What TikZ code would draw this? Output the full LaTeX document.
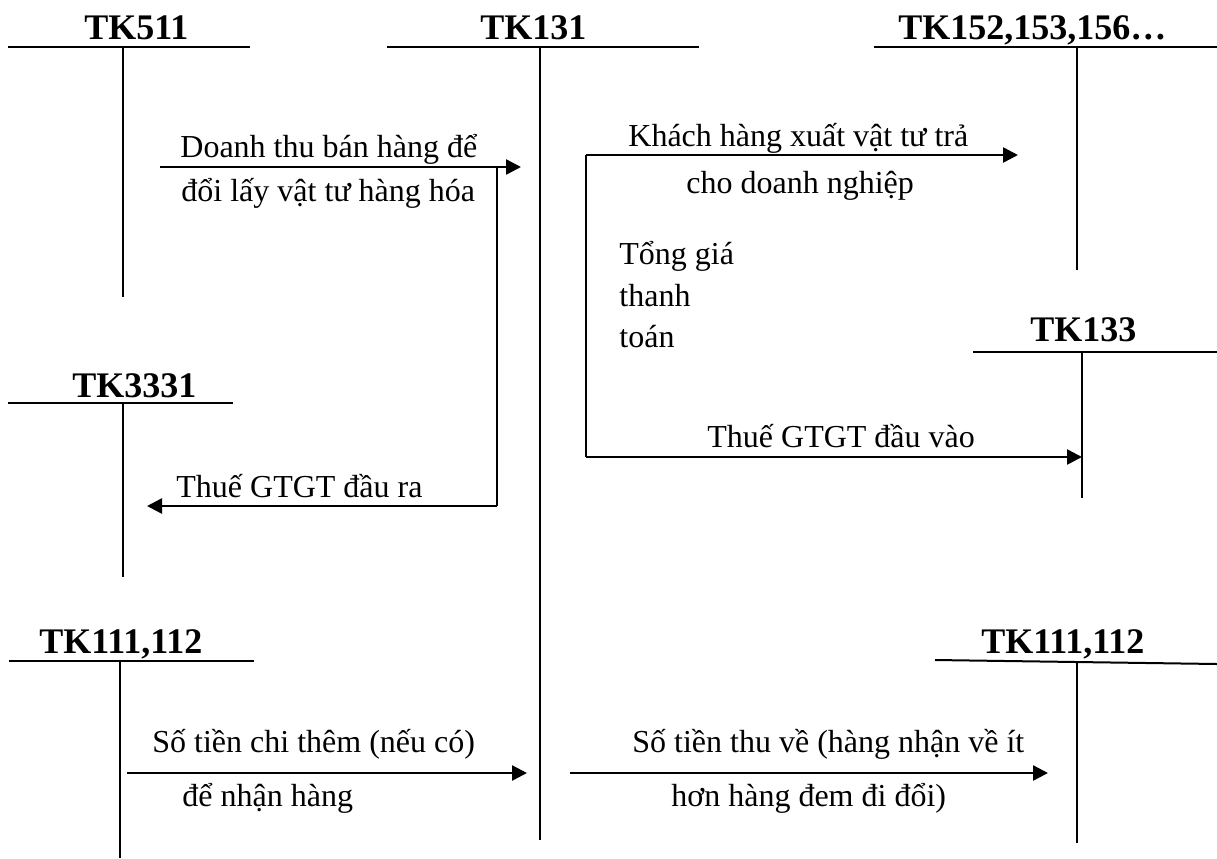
\documentclass[tikz,border=0pt]{standalone}
\usepackage{fontspec}
\setmainfont{Liberation Serif}
\usetikzlibrary{arrows.meta}

\begin{document}
\begin{tikzpicture}
[x=0.5pt,y=-0.5pt,%
  every node/.style={inner sep=0pt,anchor=base west,font=\fontsize{16}{19}\selectfont},%
  acct/.style={font=\fontsize{18}{21}\selectfont\bfseries},%
  tbar/.style={line width=1pt},%
  tleg/.style={line width=0.75pt},%
  flow/.style={-{Triangle[length=7.5pt,width=7.5pt]},line width=1.25pt}]
\useasboundingbox (0,0) rectangle (1217,858);
% account names
\node[acct] (tk511) at (84,39) {TK511};
\node[acct] (tk131) at (480,39) {TK131};
\node[acct] (tk152) at (898,39) {TK152,153,156…};
\node[acct] (tk133) at (1030,341) {TK133};
\node[acct] (tk3331) at (72,397) {TK3331};
\node[acct] (tk111a) at (39,653) {TK111,112};
\node[acct] (tk111b) at (981,653) {TK111,112};
% T accounts
\draw[tbar] (8,47) -- (250,47);   \draw[tleg] (123,47) -- (123,297);
\draw[tbar] (387,47) -- (699,47); \draw[tleg] (540,47) -- (540,840);
\draw[tbar] (874,47) -- (1217,47); \draw[tleg] (1077,47) -- (1077,270);
\draw[tbar] (973,352) -- (1217,352); \draw[tleg] (1082,352) -- (1082,498);
\draw[tbar] (8,403) -- (233,403); \draw[tleg] (123,403) -- (123,577);
\draw[tbar] (9,661) -- (254,661); \draw[tleg] (120,661) -- (120,858);
\draw[tbar] (935,660) -- (1217,664); \draw[tleg] (1077,661) -- (1077,843);
% arrows
\coordinate (dtA) at (160,167);
\coordinate (dtB) at (521,167);
\coordinate (dtC) at (497,167);
\coordinate (vatA) at (147,506);
\draw[flow] (dtA) -- (dtB);
\draw[tleg] (dtC) -- (dtC|-vatA);
\draw[flow] (dtC|-vatA) -- (vatA);
\coordinate (khA) at (586,155);
\coordinate (khB) at (1018,155);
\coordinate (gtA) at (586,457);
\coordinate (gtB) at (1082,457);
\draw[tleg] (khA) -- (gtA);
\draw[flow] (khA) -- (khB);
\draw[flow] (gtA) -- (gtB);
\coordinate (chiA) at (127,773);
\coordinate (chiB) at (527,773);
\coordinate (thuA) at (570,773);
\coordinate (thuB) at (1048,773);
\draw[flow] (chiA) -- (chiB);
\draw[flow] (thuA) -- (thuB);
% texts
\node (dt1) at (180,157) {Doanh thu bán hàng để};
\node (dt2) at (181,201) {đổi lấy vật tư hàng hóa};
\node (vat) at (176,497) {Thuế GTGT đầu ra};
\node (kh1) at (628,146) {Khách hàng xuất vật tư trả};
\node (kh2) at (686,193) {cho doanh nghiệp};
\node (tg1) at (619,264) {Tổng giá};
\node (tg2) at (619,306) {thanh};
\node (tg3) at (619,347) {toán};
\node (gt) at (707,447) {Thuế GTGT đầu vào};
\node (chi1) at (152,752) {Số tiền chi thêm (nếu có)};
\node (chi2) at (182,806) {để nhận hàng};
\node (thu1) at (632,752) {Số tiền thu về (hàng nhận về ít};
\node (thu2) at (671,806) {hơn hàng đem đi đổi)};
\end{tikzpicture}
\end{document}
